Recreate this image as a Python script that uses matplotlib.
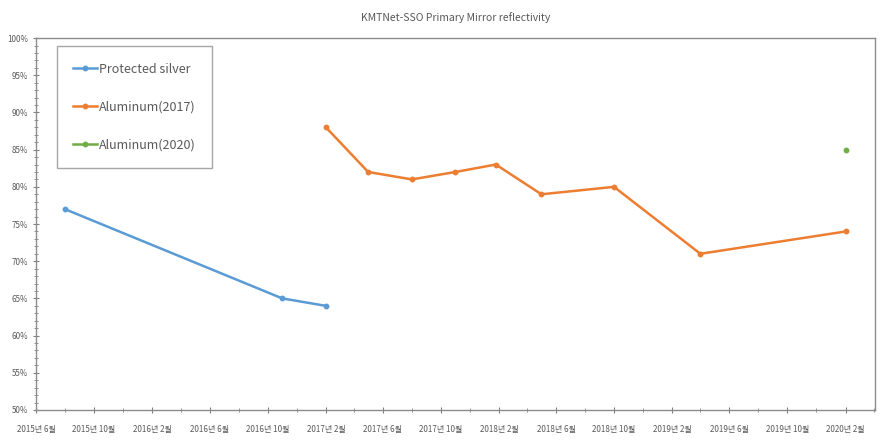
import matplotlib
matplotlib.use("Agg")
import matplotlib.pyplot as plt
import matplotlib.dates as mdates
import numpy as np
import pandas as pd
from matplotlib.ticker import MultipleLocator, FuncFormatter

plt.rcParams["font.family"] = ["Noto Sans CJK KR", "DejaVu Sans"]

# data
silver_dates = pd.to_datetime(["2015-08-01", "2016-11-01", "2017-02-01"])
silver_vals = [77, 65, 64]

al2017_dates = pd.to_datetime(["2017-02-01", "2017-05-01", "2017-08-01", "2017-11-01",
                               "2018-01-25", "2018-05-01", "2018-10-01", "2019-04-01",
                               "2020-02-01"])
al2017_vals = [88, 82, 81, 82, 83, 79, 80, 71, 74]

al2020_dates = pd.to_datetime(["2020-02-01"])
al2020_vals = [85]

TXT = "#595959"

fig = plt.figure(figsize=(8.86, 4.47), dpi=100)
ax = fig.add_axes([0.0406, 0.0828, 0.947, 0.832])

ax.plot(silver_dates, silver_vals, color="#5B9BD5", lw=1.8, marker="o", ms=3.2,
        label="Protected silver")
ax.plot(al2017_dates, al2017_vals, color="#ED7D31", lw=1.8, marker="o", ms=3.2,
        label="Aluminum(2017)")
ax.plot(al2020_dates, al2020_vals, color="#70AD47", lw=1.8, marker="o", ms=3.2,
        label="Aluminum(2020)")

ax.set_xlim(pd.Timestamp("2015-06-01"), pd.Timestamp("2020-04-03"))
ax.set_ylim(50, 100)

ax.xaxis.set_major_locator(mdates.MonthLocator(bymonth=[2, 6, 10]))
ax.xaxis.set_minor_locator(mdates.MonthLocator(bymonth=[4, 8, 12]))
ax.xaxis.set_major_formatter(FuncFormatter(
    lambda v, p: f"{mdates.num2date(v).year}년 {mdates.num2date(v).month}월"))
ax.yaxis.set_major_locator(MultipleLocator(5))
ax.yaxis.set_minor_locator(MultipleLocator(1))
ax.yaxis.set_major_formatter(FuncFormatter(lambda v, p: f"{v:.0f}%"))

ax.tick_params(axis="both", which="both", direction="inout", colors="#808080",
               labelcolor=TXT, labelsize=5.8)
ax.tick_params(axis="both", which="major", length=4, width=0.8)
ax.tick_params(axis="both", which="minor", length=3, width=0.6)
ax.tick_params(axis="x", pad=9)
for s in ax.spines.values():
    s.set_color("#8c8c8c")
    s.set_linewidth(1.0)

ax.set_title("KMTNet-SSO Primary Mirror reflectivity", fontsize=7.5, color=TXT, pad=12)

leg = ax.legend(loc="upper left", bbox_to_anchor=(0.025, 0.978), fontsize=9,
                labelspacing=2.0, handlelength=1.9, handletextpad=0.15,
                borderpad=1.3, borderaxespad=0, fancybox=False, framealpha=1)
leg.get_frame().set_edgecolor("#a6a6a6")
leg.get_frame().set_linewidth(1.0)
for t in leg.get_texts():
    t.set_color(TXT)

fig.savefig("out.png", dpi=100)
